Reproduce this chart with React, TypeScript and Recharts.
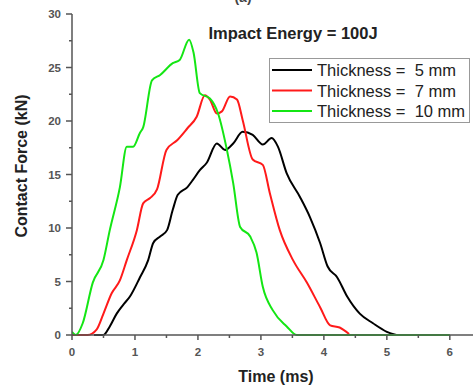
import React from 'react';
import { LineChart, Line, XAxis, YAxis } from 'recharts';

const timeTicks = [0, 0.5, 1, 1.5, 2, 2.5, 3, 3.5, 4, 4.5, 5, 5.5, 6];
const forceTicks = [0, 2.5, 5, 7.5, 10, 12.5, 15, 17.5, 20, 22.5, 25, 27.5, 30];

const chartTitle = 'Impact Energy = 100J';
const panelTag = '(a)';
const seriesNames = ['Thickness =  5 mm', 'Thickness =  7 mm', 'Thickness =  10 mm'];
const seriesColors = ['#000000', '#ff1a1a', '#14e614'];

const time5 = [0.35, 0.5, 0.6, 0.71, 0.81, 0.92, 1.08, 1.21, 1.29, 1.4, 1.51, 1.6, 1.68, 1.83, 1.92, 2.03, 2.14, 2.3, 2.43, 2.56, 2.71, 2.87, 3.03, 3.17, 3.27, 3.41, 3.62, 3.78, 3.94, 4.06, 4.21, 4.37, 4.57, 4.78, 5.0, 5.15];
const force5 = [0, 0, 0.8, 2.0, 2.8, 3.6, 5.4, 7.0, 8.6, 9.2, 9.8, 11.7, 13.1, 13.8, 14.5, 15.4, 16.1, 17.9, 17.3, 17.9, 19.0, 18.7, 17.8, 18.4, 17.6, 15.1, 12.9, 11.0, 8.6, 6.4, 5.4, 3.6, 2.0, 1.1, 0.3, 0];

const time7 = [0, 0.25, 0.39, 0.5, 0.63, 0.76, 0.87, 1.03, 1.13, 1.24, 1.35, 1.5, 1.67, 1.83, 1.98, 2.11, 2.19, 2.3, 2.38, 2.51, 2.62, 2.71, 2.87, 3.03, 3.14, 3.3, 3.51, 3.73, 3.94, 4.1, 4.25, 4.4];
const force7 = [0, 0, 0.5, 2.0, 3.9, 5.1, 7.0, 9.8, 12.3, 12.8, 13.6, 17.3, 18.2, 19.3, 20.4, 22.4, 22.0, 20.7, 20.9, 22.3, 22.0, 20.1, 16.4, 15.9, 13.3, 9.8, 7.0, 4.9, 2.6, 0.9, 0.7, 0.1];

const time10 = [0, 0.06, 0.17, 0.33, 0.5, 0.6, 0.76, 0.87, 0.97, 1.08, 1.13, 1.27, 1.4, 1.6, 1.71, 1.86, 1.93, 2.03, 2.19, 2.32, 2.46, 2.56, 2.67, 2.83, 2.93, 3.03, 3.19, 3.41, 3.57, 4.5, 6.0];
const force10 = [0.3, 0, 1.1, 4.9, 7.0, 9.8, 13.8, 17.6, 17.6, 18.9, 19.4, 23.8, 24.3, 25.4, 25.7, 27.6, 26.4, 22.6, 22.1, 20.7, 17.3, 14.2, 10.1, 9.2, 7.7, 4.5, 2.3, 0.8, 0, 0, 0];

const build = (ts: number[], fs: number[]) => ts.map((t, i) => ({ t, f: fs[i] }));
const seriesData = [build(time5, force5), build(time7, force7), build(time10, force10)];

const AXIS = '#555';
const FONT = 'Arial, "Liberation Sans", sans-serif';

const XTick = (props: any) => {
  const { x, y, payload } = props;
  const v = payload.value;
  const major = Number.isInteger(v);
  return (
    <g>
      <line x1={x} x2={x} y1={y} y2={y + (major ? 5 : 3)} stroke={AXIS} strokeWidth={1.5} />
      {major && (
        <text x={x} y={y + 21} textAnchor="middle" fontFamily={FONT} fontWeight="bold" fontSize={11.5} fill="#555">
          {v}
        </text>
      )}
    </g>
  );
};

const YTick = (props: any) => {
  const { x, y, payload } = props;
  const v = payload.value;
  const major = v % 5 === 0;
  return (
    <g>
      <line x1={x - (major ? 6 : 3)} x2={x} y1={y} y2={y} stroke={AXIS} strokeWidth={1.5} />
      {major && (
        <text x={x - 11} y={y + 4} textAnchor="end" fontFamily={FONT} fontWeight="bold" fontSize={11.5} fill="#555">
          {v}
        </text>
      )}
    </g>
  );
};

const LegendBox = () => (
  <svg width={202} height={66} style={{ display: 'block' }}>
    <rect x={0.5} y={0.5} width={200} height={64} fill="#fff" stroke="#999" strokeWidth={1} />
    {seriesNames.map((name, i) => (
      <g key={name}>
        <line x1={3} x2={43} y1={12 + i * 20.5} y2={12 + i * 20.5} stroke={seriesColors[i]} strokeWidth={2} />
        <text x={48} y={18 + i * 20.5} fontFamily={FONT} fontSize={16.5} fill="#222" xmlSpace="preserve" style={{ whiteSpace: 'pre' }}>
          {name}
        </text>
      </g>
    ))}
  </svg>
);

export default function App() {
  return (
    <div style={{ position: 'absolute', left: 0, top: 0, width: 473, height: 385, overflow: 'hidden', background: '#fff' }}>
      <LineChart width={480} height={385} margin={{ top: 14, right: 5, bottom: 0, left: 0 }}>
        <XAxis
          xAxisId={0}
          dataKey="t"
          type="number"
          domain={[0, 6.4]}
          ticks={timeTicks}
          tick={<XTick />}
          tickLine={false}
          tickSize={0}
          tickMargin={0}
          height={50}
          axisLine={{ stroke: AXIS, strokeWidth: 1.5 }}
          allowDataOverflow
          label={{
            content: () => (
              <text x={276} y={382} textAnchor="middle" fontFamily={FONT} fontWeight="bold" fontSize={16} fill="#222">
                Time (ms)
              </text>
            ),
          }}
        />
        <XAxis
          xAxisId="top"
          orientation="top"
          dataKey="t"
          type="number"
          domain={[0, 6.4]}
          tick={false}
          tickLine={false}
          height={0}
          axisLine={{ stroke: AXIS, strokeWidth: 1.5 }}
        />
        <YAxis
          type="number"
          domain={[0, 30]}
          ticks={forceTicks}
          tick={<YTick />}
          tickLine={false}
          tickSize={0}
          tickMargin={0}
          width={72}
          axisLine={{ stroke: AXIS, strokeWidth: 1.5 }}
          label={{
            content: () => (
              <text
                x={21}
                y={166}
                transform="rotate(-90, 21, 166)"
                textAnchor="middle"
                dominantBaseline="central"
                fontFamily={FONT}
                fontWeight="bold"
                fontSize={16}
                fill="#222"
              >
                Contact Force (kN)
              </text>
            ),
          }}
        />
        {seriesData.map((d, i) => (
          <Line
            key={seriesNames[i]}
            data={d}
            dataKey="f"
            name={seriesNames[i]}
            type="monotone"
            stroke={seriesColors[i]}
            strokeWidth={2}
            dot={false}
            activeDot={false}
            isAnimationActive={false}
          />
        ))}
      </LineChart>
      <svg width={473} height={60} style={{ position: 'absolute', left: 0, top: 0, pointerEvents: 'none' }}>
        <text x={293} y={38.5} textAnchor="middle" fontFamily={FONT} fontWeight="bold" fontSize={16.5} fill="#222">
          {chartTitle}
        </text>
        <text x={243} y={2} textAnchor="middle" fontFamily={FONT} fontWeight="bold" fontSize={14} fill="#444">
          {panelTag}
        </text>
      </svg>
      <div style={{ position: 'absolute', left: 269, top: 58, width: 202, height: 66 }}>
        <LegendBox />
      </div>
    </div>
  );
}
